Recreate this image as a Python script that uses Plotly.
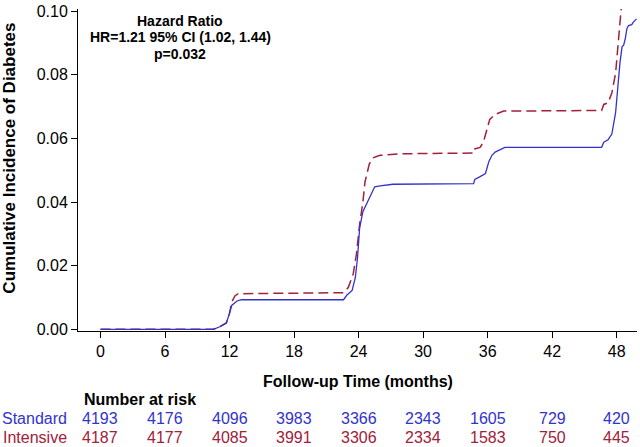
import plotly.graph_objects as go

# ---- data ----
std_t = [0, 10.5, 11.1, 11.7, 12.0, 12.2, 12.7, 13.1, 22.6, 22.9, 23.4, 23.7, 23.9, 24.1, 24.4, 24.8,
         25.5, 26.0, 27.2, 34.7, 34.8, 35.3, 35.8, 36.1, 36.4, 36.7, 37.6, 46.6, 46.8, 47.2, 47.55,
         47.9, 48.1, 48.3, 48.5, 48.65, 48.8, 48.95, 49.1, 49.4, 49.55, 49.85]
std_v = [0, 0, 0.0008, 0.002, 0.005, 0.0075, 0.0089, 0.0093, 0.0093, 0.0107, 0.0122, 0.0163, 0.0225,
         0.0319, 0.037, 0.040, 0.0448, 0.0451, 0.0456, 0.0458, 0.0471, 0.048, 0.049, 0.0526, 0.0547,
         0.0557, 0.0572, 0.0572, 0.0588, 0.0596, 0.0614, 0.0681, 0.0764, 0.0836, 0.0888, 0.0893,
         0.0914, 0.0945, 0.0955, 0.0958, 0.0966, 0.0976]

int_t = [0, 10.5, 11.1, 11.7, 12.0, 12.2, 12.5, 12.8, 22.6, 23.05, 23.5, 23.8, 24.1, 24.4, 24.6, 25.0,
         25.4, 26.0, 28.0, 34.7, 34.8, 35.3, 35.6, 35.9, 36.2, 36.7, 37.5, 46.6, 46.8, 47.2, 47.55,
         47.9, 48.1, 48.3, 48.45]
int_v = [0, 0, 0.0008, 0.002, 0.005, 0.0085, 0.0105, 0.0112, 0.0115, 0.0132, 0.0174, 0.0236, 0.033,
         0.040, 0.0464, 0.052, 0.0540, 0.0547, 0.0552, 0.0554, 0.0567, 0.0572, 0.0588, 0.0624, 0.066,
         0.0676, 0.0686, 0.0688, 0.0707, 0.0712, 0.0743, 0.0805, 0.0888, 0.096, 0.102]

risk_times = [0, 6, 12, 18, 24, 30, 36, 42, 48]
risk_standard = [4193, 4176, 4096, 3983, 3366, 2343, 1605, 729, 420]
risk_intensive = [4187, 4177, 4085, 3991, 3306, 2334, 1583, 750, 445]

x_ticks = [0, 6, 12, 18, 24, 30, 36, 42, 48]
y_ticks = [0.00, 0.02, 0.04, 0.06, 0.08, 0.10]

BLUE = "#3333CC"
RED = "#A3203A"
FONT = "Arial, Liberation Sans, sans-serif"

fig = go.Figure()
fig.add_trace(go.Scatter(x=int_t, y=int_v, mode="lines", name="Intensive",
                         line=dict(color=RED, width=1.5, dash="10px,5px")))
fig.add_trace(go.Scatter(x=std_t, y=std_v, mode="lines", name="Standard",
                         line=dict(color=BLUE, width=1.3)))

# plot area: x 78..637 px, y 5..331 px
L, R, T, B = 78, 3, 5, 116
W, H = 640, 447
pw = W - L - R
ph = H - T - B

def px_x(px):
    return (px - L) / pw

def px_y(py):
    return (H - B - py) / ph

ann = []
for i, line in enumerate(["Hazard Ratio", "HR=1.21 95% CI (1.02, 1.44)", "p=0.032"]):
    ann.append(dict(x=px_x(180), y=px_y(16.7 + 16.7 * i), xref="paper", yref="paper",
                    text=f"<b>{line}</b>", showarrow=False, xanchor="center", yanchor="middle",
                    font=dict(family=FONT, size=14, color="black")))

ann.append(dict(x=px_x(358), y=px_y(382), xref="paper", yref="paper",
                text="<b>Follow-up Time (months)</b>", showarrow=False,
                xanchor="center", yanchor="middle", font=dict(family=FONT, size=16, color="black")))
ann.append(dict(x=px_x(9.5), y=px_y(156), xref="paper", yref="paper", textangle=-90,
                text="<b>Cumulative Incidence of Diabetes</b>", showarrow=False,
                xanchor="center", yanchor="middle", font=dict(family=FONT, size=17, color="black")))
ann.append(dict(x=px_x(82), y=px_y(400), xref="paper", yref="paper",
                text="<b>Number at risk</b>", showarrow=False,
                xanchor="left", yanchor="middle", font=dict(family=FONT, size=16, color="black")))
ann.append(dict(x=px_x(69), y=px_y(419.5), xref="paper", yref="paper", text="Standard",
                showarrow=False, xanchor="right", yanchor="middle",
                font=dict(family=FONT, size=16, color=BLUE)))
ann.append(dict(x=px_x(69), y=px_y(438.5), xref="paper", yref="paper", text="Intensive",
                showarrow=False, xanchor="right", yanchor="middle",
                font=dict(family=FONT, size=16, color=RED)))
for t, s, n in zip(risk_times, risk_standard, risk_intensive):
    ann.append(dict(x=t, y=px_y(419.5), xref="x", yref="paper", text=str(s), showarrow=False,
                    xanchor="center", yanchor="middle", font=dict(family=FONT, size=16, color=BLUE)))
    ann.append(dict(x=t, y=px_y(438.5), xref="x", yref="paper", text=str(n), showarrow=False,
                    xanchor="center", yanchor="middle", font=dict(family=FONT, size=16, color=RED)))

fig.update_layout(
    width=W, height=H,
    margin=dict(l=L, r=R, t=T, b=B),
    paper_bgcolor="white", plot_bgcolor="white",
    showlegend=False,
    annotations=ann,
    font=dict(family=FONT, size=16, color="black"),
)
fig.update_xaxes(range=[-2.09, 49.89], tickvals=x_ticks, ticktext=[str(v) for v in x_ticks],
                 showline=True, linecolor="black", linewidth=1, ticks="outside", ticklen=6,
                 tickcolor="black", showgrid=False, zeroline=False, ticklabeloverflow="allow",
                 tickfont=dict(family=FONT, size=16, color="black"))
fig.update_yaxes(range=[-0.00053, 0.1007], tickvals=y_ticks, ticktext=[f"{v:.2f}" for v in y_ticks],
                 showline=True, linecolor="black", linewidth=1, ticks="outside", ticklen=6,
                 tickcolor="black", showgrid=False, zeroline=False, ticklabeloverflow="allow",
                 tickfont=dict(family=FONT, size=16, color="black"))

fig.write_html("out.html", config={"displayModeBar": False},
               post_script="document.body.style.margin='0px';")
